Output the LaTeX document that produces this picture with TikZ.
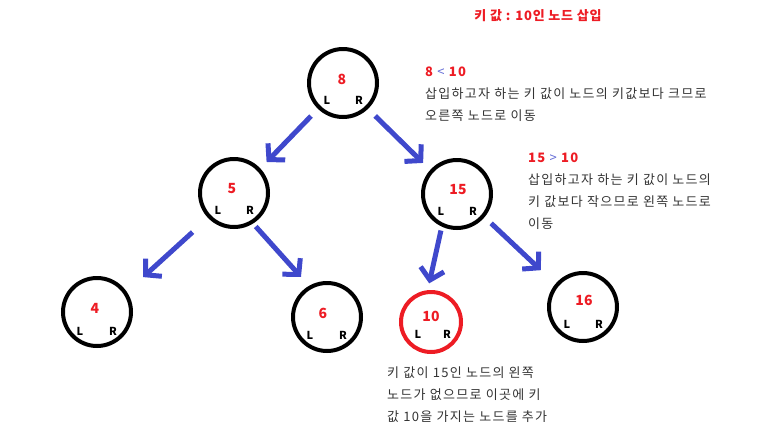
\documentclass[tikz,border=0pt]{standalone}
\usepackage{fontspec}
\setmainfont{Noto Sans CJK KR}
\newfontfamily\notefont[LetterSpace=10]{Noto Sans CJK KR}
\newfontfamily\titlefont[LetterSpace=6]{Noto Sans CJK KR}
\usetikzlibrary{arrows.meta}
\definecolor{keyred}{HTML}{ED1C24}
\definecolor{bluearrow}{HTML}{3F48CC}
\definecolor{notegray}{HTML}{333333}
\tikzset{
  bst/.style={circle,draw,line width=4pt,minimum size=68pt,inner sep=0pt},
  newbst/.style={bst,draw=keyred,minimum size=60pt},
  keytext/.style={font=\fontsize{14}{14}\selectfont\bfseries,text=keyred,inner sep=0pt},
  lrtext/.style={font=\fontsize{11}{11}\selectfont\bfseries,inner sep=0pt},
  move/.style={-{Straight Barb[length=11pt,width=24pt]},line width=5pt,draw=bluearrow},
  notetext/.style={font=\notefont\fontsize{13}{22}\selectfont,text=notegray,align=left,anchor=west,inner sep=0pt},
  titletext/.style={font=\titlefont\fontsize{13}{13}\selectfont\bfseries,text=keyred,inner sep=0pt}
}
\begin{document}
\begin{tikzpicture}[x=1pt,y=-1pt]
  \useasboundingbox (0,0) rectangle (776,437);
  \node[titletext] (title) at (538,16) {키 값 : 10인 노드 삽입};

  % tree nodes
  \node[bst] (n8) at (343,83) {};
  \node[bst] (n5) at (234,193) {};
  \node[bst] (n15) at (457,194) {};
  \node[bst] (n4) at (97,312) {};
  \node[bst] (n6) at (327,317) {};
  \node[newbst] (n10) at (431,322) {};
  \node[bst] (n16) at (583,307) {};

  \node[keytext] (k8) at ([shift={(-1,-4)}]n8.center) {8};
  \node[lrtext] (l8) at ([shift={(-16,17)}]n8.center) {L};
  \node[lrtext] (r8) at ([shift={(16,17)}]n8.center) {R};
  \node[keytext] (k5) at ([shift={(-2,-4)}]n5.center) {5};
  \node[lrtext] (l5) at ([shift={(-16,17)}]n5.center) {L};
  \node[lrtext] (r5) at ([shift={(16,17)}]n5.center) {R};
  \node[keytext] (k15) at ([shift={(1,-4)}]n15.center) {15};
  \node[lrtext] (l15) at ([shift={(-16,17)}]n15.center) {L};
  \node[lrtext] (r15) at ([shift={(16,17)}]n15.center) {R};
  \node[keytext] (k4) at ([shift={(-2,-4)}]n4.center) {4};
  \node[lrtext] (l4) at ([shift={(-17,19)}]n4.center) {L};
  \node[lrtext] (r4) at ([shift={(16,19)}]n4.center) {R};
  \node[keytext] (k6) at ([shift={(-4,-4)}]n6.center) {6};
  \node[lrtext] (l6) at ([shift={(-17,18)}]n6.center) {L};
  \node[lrtext] (r6) at ([shift={(16,18)}]n6.center) {R};
  \node[keytext] (k10) at ([shift={(0,-6)}]n10.center) {10};
  \node[lrtext] (l10) at ([shift={(-13,12)}]n10.center) {L};
  \node[lrtext] (r10) at ([shift={(16,12)}]n10.center) {R};
  \node[keytext] (k16) at ([shift={(1,-7)}]n16.center) {16};
  \node[lrtext] (l16) at ([shift={(-16,17)}]n16.center) {L};
  \node[lrtext] (r16) at ([shift={(16,17)}]n16.center) {R};

  % search path arrows
  \draw[move,shorten <=10pt,shorten >=9pt] (n8.226) -- (n5.43);
  \draw[move,shorten <=10pt,shorten >=10pt] (n8.314) -- (n15.138);
  \draw[move,shorten <=21pt,shorten >=22pt] (n5.224) -- (n4.34);
  \draw[move,shorten <=4pt,shorten >=12pt] (n5.302) -- (n6.120);
  \draw[move,shorten <=4pt,shorten >=7pt] (n15.245) -- (n10.96);
  \draw[move,shorten <=9pt,shorten >=20pt] (n15.320) -- (n16.140);

  % notes
  \node[notetext] (note8) at (425,94) {{\bfseries\color{keyred}8 \textcolor{bluearrow!80}{\mdseries<} 10}\\삽입하고자 하는 키 값이 노드의 키값보다 크므로\\오른쪽 노드로 이동};
  \node[notetext] (note15) at (528,191) {{\bfseries\color{keyred}15 \textcolor{bluearrow!80}{\mdseries>} 10}\\삽입하고자 하는 키 값이 노드의\\키 값보다 작으므로 왼쪽 노드로\\이동};
  \node[notetext] (note10) at (387,395) {키 값이 15인 노드의 왼쪽\\노드가 없으므로 이곳에 키\\값 10을 가지는 노드를 추가};
\end{tikzpicture}
\end{document}
